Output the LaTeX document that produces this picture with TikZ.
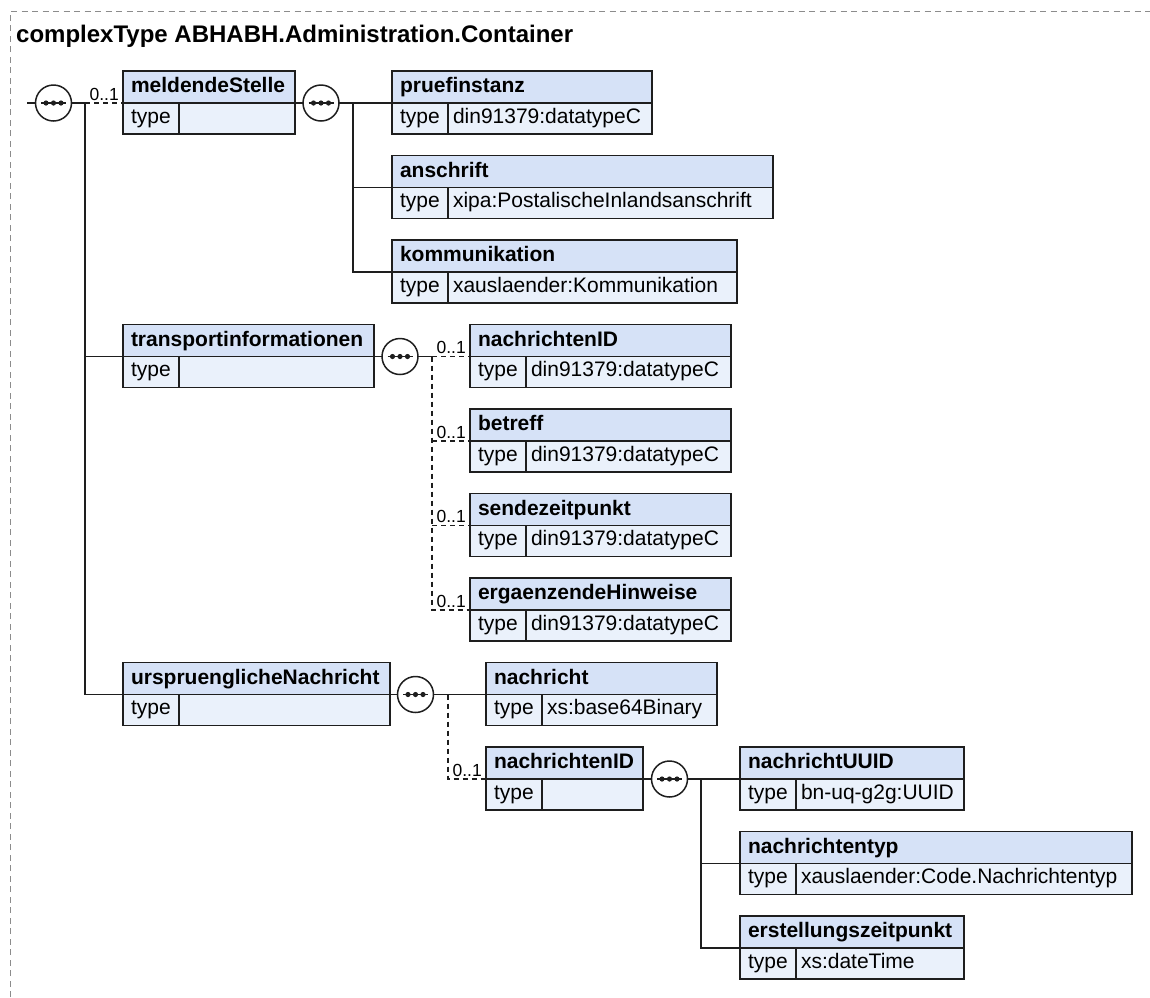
\documentclass[tikz,border=0pt]{standalone}
\usepackage{fontspec}
\setmainfont{Liberation Sans}
\usepackage{xcolor}
\usepackage{tikz}
\usetikzlibrary{positioning,calc}
\hyphenpenalty=10000
\exhyphenpenalty=10000
\definecolor{xsdhead}{HTML}{D6E2F7}
\definecolor{xsdrow}{HTML}{EAF1FB}
\definecolor{xsdline}{HTML}{1E1E1E}
\definecolor{xsdframe}{HTML}{8C8C8C}
\tikzset{
  elhead/.style={draw=xsdline,line width=1.5pt,fill=xsdhead,outer sep=0pt,inner xsep=8pt,inner ysep=2pt,
                 minimum height=32pt,align=left,text height=15pt,text depth=4pt,
                 font=\fontsize{21}{25}\selectfont\bfseries},
  eltype/.style={draw=xsdline,line width=1.5pt,fill=xsdrow,outer sep=0pt,inner xsep=8pt,inner ysep=2pt,
                 minimum height=31pt,text width=40pt,align=left,text height=14pt,text depth=5pt,
                 font=\fontsize{21}{25}\selectfont},
  elvalue/.style={eltype,inner xsep=5pt},
  seqnode/.style={circle,draw=xsdline,line width=1.5pt,fill=white,minimum size=36pt,inner sep=0pt,outer sep=0pt},
  seqbar/.style={draw=xsdline,line width=1.4pt},
  seqdot/.style={fill=xsdline},
  conn/.style={draw=xsdline,line width=1.5pt},
  optconn/.style={conn,dash pattern=on 5pt off 4pt},
  occlabel/.style={font=\fontsize{17.5}{20}\selectfont,anchor=base east,inner sep=0pt},
  frameline/.style={draw=xsdframe,line width=1pt,dash pattern=on 6pt off 4.5pt},
  titlelabel/.style={anchor=base west,inner sep=0pt,font=\fontsize{24}{28}\selectfont\bfseries}
}
% element: name, x, y of header/row border, width, title, type
\newcommand{\xsdelement}[6]{%
  \pgfmathsetmacro{\headw}{#4-16}%
  \pgfmathsetmacro{\valw}{#4-66}%
  \node[elhead,text width=\headw pt,anchor=south west] (#1) at (#2,#3) {#5};
  \node[eltype,anchor=north west] (#1-type) at (#1.south west) {type};
  \node[elvalue,text width=\valw pt,anchor=north west] (#1-value) at (#1-type.north east) {#6};
}
% sequence compositor: name, x, y
\newcommand{\xsdsequence}[3]{%
  \node[seqnode] (#1) at (#2,#3) {};
  \draw[seqbar] ([xshift=-12.5pt]#1.center) -- ([xshift=12.5pt]#1.center);
  \fill[seqdot] ([xshift=-7.5pt]#1.center) circle (2.6pt);
  \fill[seqdot] (#1.center) circle (2.6pt);
  \fill[seqdot] ([xshift=7.5pt]#1.center) circle (2.6pt);
}

\begin{document}
\begin{tikzpicture}[x=1pt,y=-1pt]
    \useasboundingbox (0,0) rectangle (1150,997);
    \draw[frameline] (10,997) -- (10,11) -- (1150,11);
    \node[titlelabel] (title) at (16,42.5) {complexType ABHABH.Administration.Container};

    \xsdelement{meldendeStelle}{123}{103}{172}{meldendeStelle}{}
    \xsdelement{pruefinstanz}{392}{103}{260}{pruefinstanz}{din91379:datatypeC}
    \xsdelement{anschrift}{392}{187.5}{381}{anschrift}{xipa:PostalischeInlandsanschrift}
    \xsdelement{kommunikation}{392}{272}{345}{kommunikation}{xauslaender:Kommunikation}
    \xsdelement{transportinformationen}{123}{356.5}{251}{transportinformationen}{}
    \xsdelement{nachrichtenID}{470}{356.5}{261}{nachrichtenID}{din91379:datatypeC}
    \xsdelement{betreff}{470}{441}{261}{betreff}{din91379:datatypeC}
    \xsdelement{sendezeitpunkt}{470}{525.5}{261}{sendezeitpunkt}{din91379:datatypeC}
    \xsdelement{ergaenzendeHinweise}{470}{610}{261}{ergaenzendeHinweise}{din91379:datatypeC}
    \xsdelement{urspruenglicheNachricht}{123}{694.5}{267}{urspruenglicheNachricht}{}
    \xsdelement{nachricht}{486}{694.5}{231}{nachricht}{xs:base64Binary}
    \xsdelement{nachrichtenIDzwei}{486}{779}{157}{nachrichtenID}{}
    \xsdelement{nachrichtUUID}{740}{779}{224}{nachrichtUUID}{bn-uq-g2g:UUID}
    \xsdelement{nachrichtentyp}{740}{863.5}{392}{nachrichtentyp}{xauslaender:Code.Nachrichtentyp}
    \xsdelement{erstellungszeitpunkt}{740}{948}{224}{erstellungszeitpunkt}{xs:dateTime}

    \xsdsequence{seqroot}{53.5}{103}
    \xsdsequence{seqmeldende}{321}{103}
    \xsdsequence{seqtransport}{400}{356.5}
    \xsdsequence{sequrspr}{415.5}{694.5}
    \xsdsequence{seqnachrid}{669.5}{779}

    \coordinate (start) at (27,103);
    \coordinate (trunkroot) at (85,103);
    \coordinate (trunkmeldende) at (353,103);
    \coordinate (trunktransport) at (432,356.5);
    \coordinate (trunkurspr) at (448,694.5);
    \coordinate (trunknachrid) at (701,779);

    % Container
    \draw[conn] (start) -- (seqroot);
    \draw[conn] (seqroot) -- (trunkroot) |- (urspruenglicheNachricht.south west);
    \draw[optconn] (trunkroot) -- (meldendeStelle.south west);
    \draw[conn] (trunkroot |- transportinformationen.south west) -- (transportinformationen.south west);
    \node[occlabel] (occmeldende) at ([xshift=-4pt,yshift=3pt]meldendeStelle.south west) {0..1};

    % meldendeStelle
    \draw[conn] (meldendeStelle.south east) -- (seqmeldende);
    \draw[conn] (seqmeldende) -- (pruefinstanz.south west);
    \draw[conn] (trunkmeldende) |- (kommunikation.south west);
    \draw[conn] (trunkmeldende |- anschrift.south west) -- (anschrift.south west);

    % transportinformationen
    \draw[conn] (transportinformationen.south east) -- (seqtransport);
    \draw[conn] (seqtransport) -- (trunktransport);
    \draw[optconn] (trunktransport) -- (nachrichtenID.south west);
    \draw[optconn] (trunktransport) |- (ergaenzendeHinweise.south west);
    \draw[optconn] (trunktransport |- betreff.south west) -- (betreff.south west);
    \draw[optconn] (trunktransport |- sendezeitpunkt.south west) -- (sendezeitpunkt.south west);
    \node[occlabel] (occnachrichtenID) at ([xshift=-4pt,yshift=3pt]nachrichtenID.south west) {0..1};
    \node[occlabel] (occbetreff) at ([xshift=-4pt,yshift=3pt]betreff.south west) {0..1};
    \node[occlabel] (occsendezeitpunkt) at ([xshift=-4pt,yshift=3pt]sendezeitpunkt.south west) {0..1};
    \node[occlabel] (occergaenzende) at ([xshift=-4pt,yshift=3pt]ergaenzendeHinweise.south west) {0..1};

    % urspruenglicheNachricht
    \draw[conn] (urspruenglicheNachricht.south east) -- (sequrspr);
    \draw[conn] (sequrspr) -- (nachricht.south west);
    \draw[optconn] (trunkurspr) |- (nachrichtenIDzwei.south west);
    \node[occlabel] (occnachrichtenIDzwei) at ([xshift=-4pt,yshift=3pt]nachrichtenIDzwei.south west) {0..1};

    % nachrichtenID
    \draw[conn] (nachrichtenIDzwei.south east) -- (seqnachrid);
    \draw[conn] (seqnachrid) -- (nachrichtUUID.south west);
    \draw[conn] (trunknachrid) |- (erstellungszeitpunkt.south west);
    \draw[conn] (trunknachrid |- nachrichtentyp.south west) -- (nachrichtentyp.south west);
\end{tikzpicture}
\end{document}
